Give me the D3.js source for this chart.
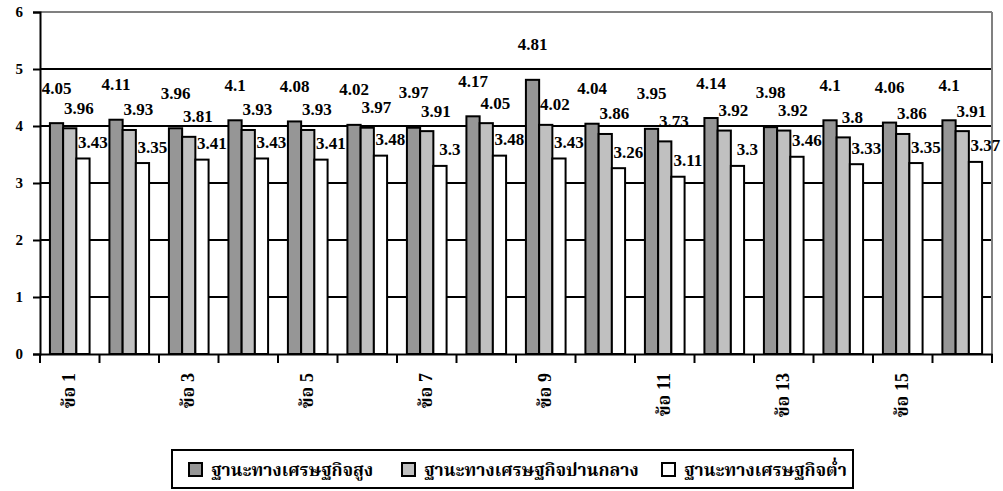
<!DOCTYPE html>
<html>
<head>
<meta charset="utf-8">
<script src="https://cdn.jsdelivr.net/npm/d3@7"></script>
<style>
  html, body { margin: 0; padding: 0; background: #fff; }
  svg { display: block; }
  svg text { font-family: "Liberation Serif", "Times New Roman", serif; font-weight: bold; fill: #000; }
  svg text.thai { font-family: "Liberation Serif", "Noto Serif Thai", "Noto Sans Thai", serif; }
</style>
</head>
<body>
<svg id="chart" width="1003" height="491"></svg>
<script>
const categories = ["ข้อ 1","ข้อ 2","ข้อ 3","ข้อ 4","ข้อ 5","ข้อ 6","ข้อ 7","ข้อ 8","ข้อ 9","ข้อ 10","ข้อ 11","ข้อ 12","ข้อ 13","ข้อ 14","ข้อ 15","ข้อ 16"];
const seriesNames = ["ฐานะทางเศรษฐกิจสูง","ฐานะทางเศรษฐกิจปานกลาง","ฐานะทางเศรษฐกิจต่ำ"];
const highValues = [4.05,4.11,3.96,4.1,4.08,4.02,3.97,4.17,4.81,4.04,3.95,4.14,3.98,4.1,4.06,4.1];
const midValues  = [3.96,3.93,3.81,3.93,3.93,3.97,3.91,4.05,4.02,3.86,3.73,3.92,3.92,3.8,3.86,3.91];
const lowValues  = [3.43,3.35,3.41,3.43,3.41,3.48,3.3,3.48,3.43,3.26,3.11,3.3,3.46,3.33,3.35,3.37];
const yTicks = [0,1,2,3,4,5,6];
const shownCategoryLabels = ["ข้อ 1","ข้อ 3","ข้อ 5","ข้อ 7","ข้อ 9","ข้อ 11","ข้อ 13","ข้อ 15"];

const seriesValues = [highValues, midValues, lowValues];
const colors = ["#969696", "#c0c0c0", "#ffffff"];
const labelDy = [-35, -20, -16];
const labelDx = [0, 9, 10];

const svg = d3.select("#chart");
const pL = 40, pR = 992, pT = 12, pB = 354;

const x0 = d3.scaleBand().domain(categories).range([pL, pR]).padding(0);
const x1 = d3.scaleBand().domain(d3.range(3)).range([0, x0.bandwidth()]).paddingInner(0).paddingOuter(0.75);
const y = d3.scaleLinear().domain([0, 6]).range([pB, pT]);

// gridlines
svg.append("g").selectAll("line").data(yTicks.filter(t => t > 0 && t < 6)).join("line")
  .attr("x1", pL).attr("x2", pR)
  .attr("y1", d => y(d)).attr("y2", d => y(d))
  .attr("stroke", "#000").attr("stroke-width", 2);

// top & right frame (gray)
svg.append("line").attr("x1", pL).attr("x2", pR).attr("y1", y(6)).attr("y2", y(6))
  .attr("stroke", "#808080").attr("stroke-width", 2);
svg.append("line").attr("x1", pR).attr("x2", pR).attr("y1", y(6)).attr("y2", y(0))
  .attr("stroke", "#808080").attr("stroke-width", 2);

// bars
const groups = svg.append("g").selectAll("g").data(categories).join("g")
  .attr("transform", d => `translate(${x0(d)},0)`);
groups.selectAll("rect").data((d, i) => seriesValues.map((s, k) => ({k, v: s[i]}))).join("rect")
  .attr("x", d => x1(d.k))
  .attr("width", x1.bandwidth())
  .attr("y", d => y(d.v))
  .attr("height", d => y(0) - y(d.v))
  .attr("fill", d => colors[d.k])
  .attr("stroke", "#000").attr("stroke-width", 2);

// data labels
groups.selectAll("text").data((d, i) => seriesValues.map((s, k) => ({k, v: s[i]}))).join("text")
  .attr("x", d => x1(d.k) + x1.bandwidth() / 2 + labelDx[d.k])
  .attr("y", d => y(d.v) + labelDy[d.k])
  .attr("text-anchor", "middle")
  .attr("dominant-baseline", "central")
  .attr("font-size", 17)
  .text(d => String(d.v));

// y axis
const yAxis = d3.axisLeft(y).tickValues(yTicks).tickSize(7).tickFormat(d3.format("d"));
const yg = svg.append("g").attr("transform", `translate(${pL},0)`).call(yAxis);
yg.attr("font-family", null);
yg.select(".domain").attr("stroke", "#000").attr("stroke-width", 2);
yg.selectAll(".tick line").attr("stroke", "#000").attr("stroke-width", 2);
yg.selectAll(".tick text").attr("font-size", 15).attr("x", -17);

// x axis
const xAxis = d3.axisBottom(x0).tickSize(0).tickFormat(d => shownCategoryLabels.includes(d) ? d : "");
const xg = svg.append("g").attr("transform", `translate(0,${pB})`).call(xAxis);
xg.attr("font-family", null);
xg.select(".domain").attr("stroke", "#000").attr("stroke-width", 2);
xg.selectAll(".tick text")
  .attr("class", "thai")
  .attr("font-size", 18)
  .attr("transform", "rotate(-90)")
  .attr("x", -19).attr("y", -1).attr("dy", "0.35em")
  .attr("text-anchor", "end");
// boundary tick marks
xg.append("g").selectAll("line").data(categories.concat(["__end"])).join("line")
  .attr("x1", d => d === "__end" ? pR : x0(d))
  .attr("x2", d => d === "__end" ? pR : x0(d))
  .attr("y1", 0).attr("y2", 9)
  .attr("stroke", "#000").attr("stroke-width", 2);

// legend
const lg = svg.append("g");
lg.append("rect").attr("x", 172).attr("y", 450).attr("width", 681).attr("height", 38)
  .attr("fill", "#fff").attr("stroke", "#000").attr("stroke-width", 2);
const legendX = [189, 402, 662];
seriesNames.forEach((name, k) => {
  lg.append("rect").attr("x", legendX[k]).attr("y", 463).attr("width", 13).attr("height", 13)
    .attr("fill", colors[k]).attr("stroke", "#000").attr("stroke-width", 2);
  lg.append("text").attr("class", "thai").attr("x", legendX[k] + 22).attr("y", 470)
    .attr("dominant-baseline", "central").attr("font-size", 17.5).text(name);
});
</script>
</body>
</html>
